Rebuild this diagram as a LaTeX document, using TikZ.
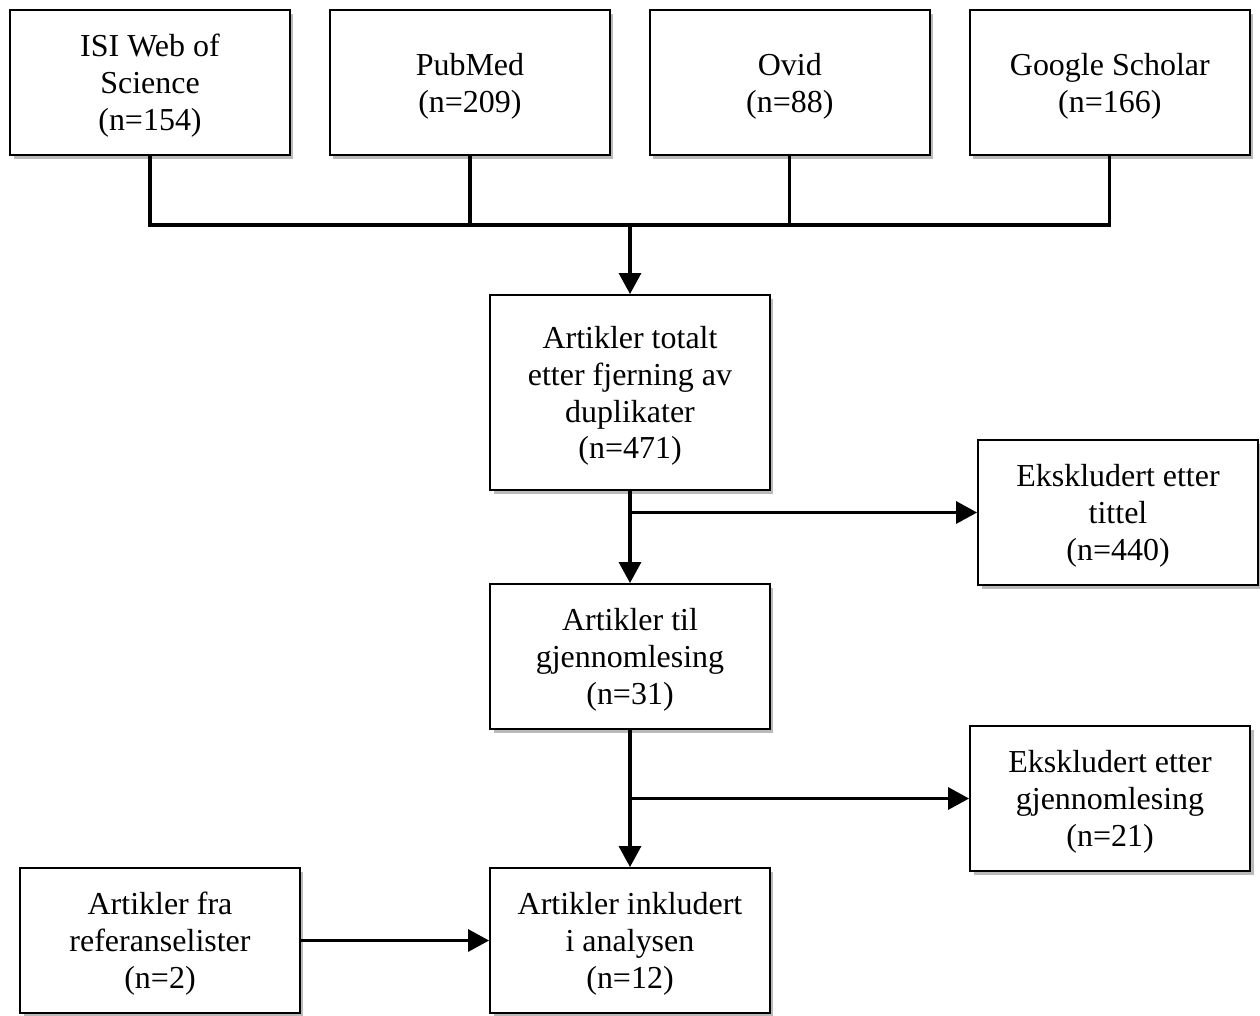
\documentclass[tikz,border=0pt]{standalone}
\usepackage{fontspec}
\setmainfont{Liberation Serif}
\usetikzlibrary{positioning, arrows.meta, shadows}

\begin{document}
\begin{tikzpicture}[
			x=0.02cm, y=-0.02cm,
			node distance=6.4cm,
			on grid,
			box/.style={
				draw=black,
				line width=1.1pt,
				fill=white,
				align=center,
				minimum width=5.6cm,
				minimum height=2.9cm,
				inner sep=2pt,
				text depth=0pt,
				font=\fontsize{18.2}{21}\selectfont,
				drop shadow={shadow xshift=2pt, shadow yshift=-2.5pt, fill=black!60, opacity=0.45}
			},
			link/.style={
				draw=black,
				line width=1.8pt
			},
			arrow/.style={
				link,
				-{Triangle[length=0.42cm, width=0.44cm]}
			}
			]
			\useasboundingbox (0,0) rectangle (1260,1015);
			% Databases
			\node[box] (isi) at (150,82.5) {ISI Web of\\Science\\(n=154)};
			\node[box] (pubmed) [right=of isi] {PubMed\\(n=209)};
			\node[box] (ovid) [right=of pubmed] {Ovid\\(n=88)};
			\node[box] (google) [right=of ovid] {Google Scholar\\(n=166)};
			\coordinate (bus) at (630,225);
			% Screening
			\node[box, minimum height=3.9cm] (total) at (630,392.5) {Artikler totalt\\etter fjerning av\\duplikater\\(n=471)};
			\node[box] (til) at (630,656.5) {Artikler til\\gjennomlesing\\(n=31)};
			\node[box] (inkl) at (630,940.5) {Artikler inkludert\\i analysen\\(n=12)};
			\node[box] (tittel) at (1118,512.5) {Ekskludert etter\\tittel\\(n=440)};
			\node[box] (gjennom) at (1110,798.5) {Ekskludert etter\\gjennomlesing\\(n=21)};
			\node[box] (ref) at (160,940.5) {Artikler fra\\referanselister\\(n=2)};
			% Connectors
			\draw[link] (isi.south) |- (google.south |- bus) -- (google.south);
			\draw[link] (pubmed.south) -- (pubmed.south |- bus);
			\draw[link] (ovid.south) -- (ovid.south |- bus);
			\draw[arrow] (bus) -- (total.north);
			\draw[arrow] (total.south) -- (til.north);
			\draw[arrow] (total.south |- tittel) -- (tittel.west);
			\draw[arrow] (til.south) -- (inkl.north);
			\draw[arrow] (til.south |- gjennom) -- (gjennom.west);
			\draw[arrow] (ref.east) -- (inkl.west);
		\end{tikzpicture}
\end{document}
